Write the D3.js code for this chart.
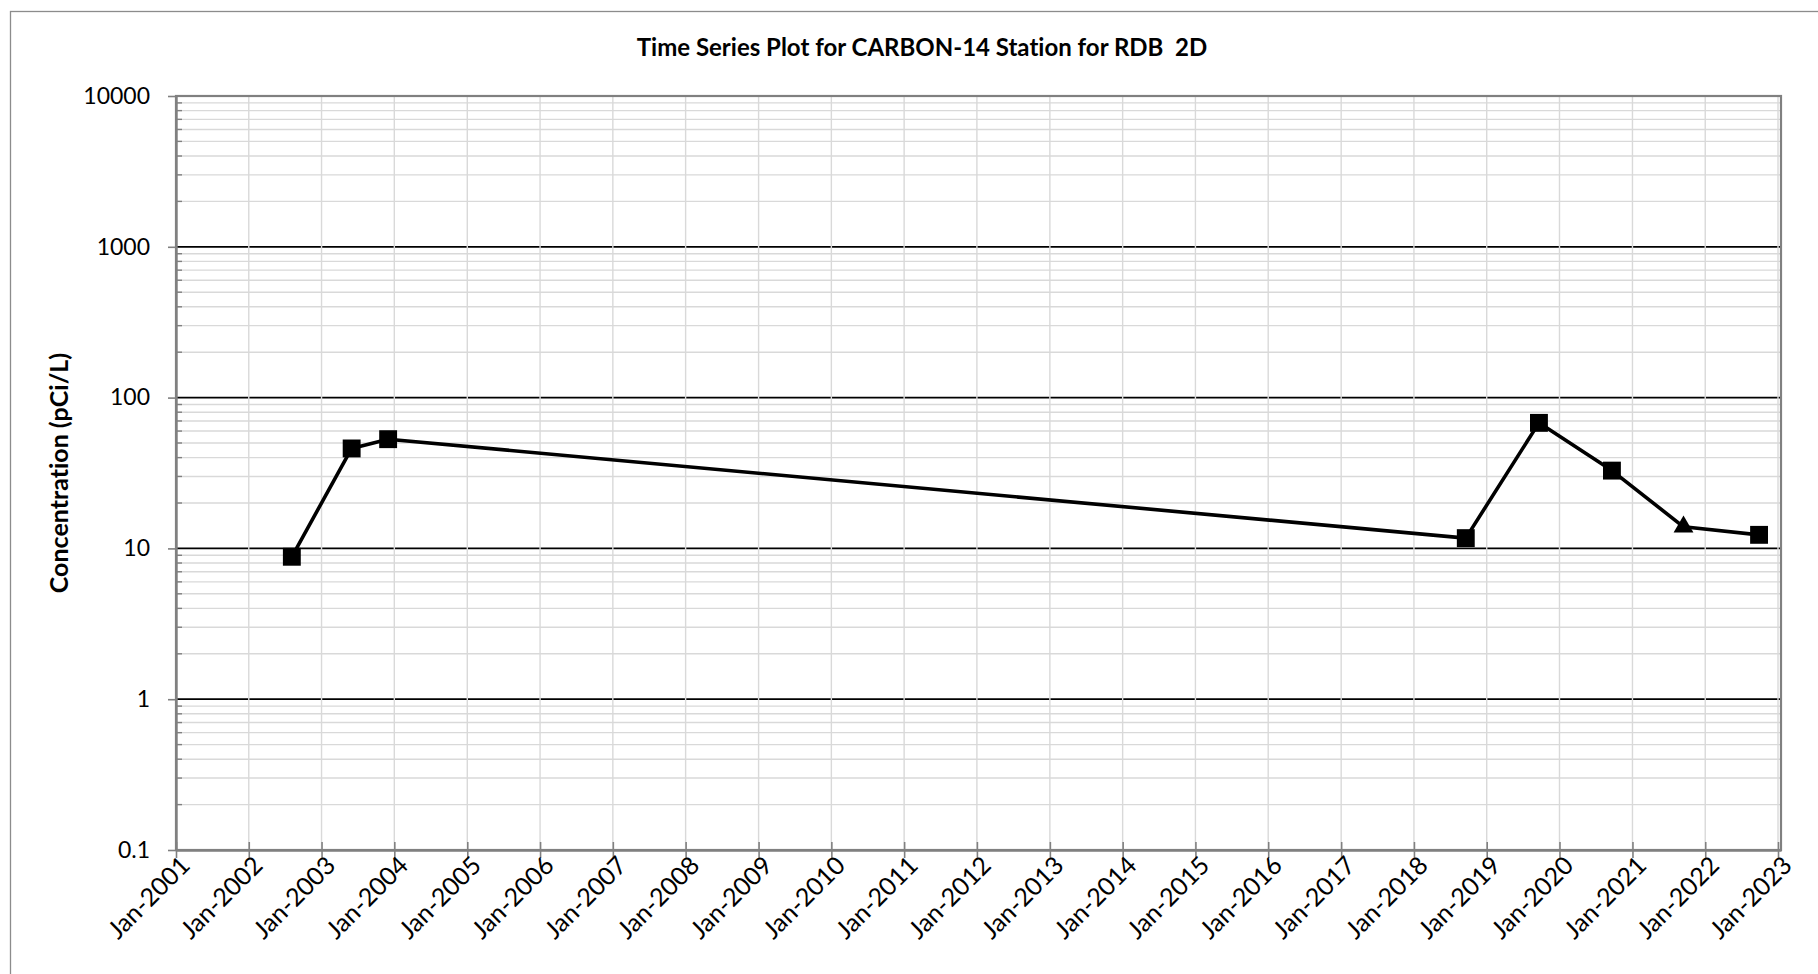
<!DOCTYPE html>
<html>
<head>
<meta charset="utf-8">
<script src="https://cdn.jsdelivr.net/npm/d3@7"></script>
<style>
  html, body { margin: 0; padding: 0; background: #fff; }
  svg { display: block; }
  text { font-family: Lato, "Open Sans", sans-serif; fill: #000; white-space: pre;
         font-variant-ligatures: none; }
</style>
</head>
<body>
<svg id="chart" width="1818" height="974"></svg>
<script>
// Carbon-14 sample results, station RDB 2D
const sampleDates = ["2002-08-05", "2003-06-01", "2003-12-01", "2018-09-18",
                     "2019-09-20", "2020-09-20", "2021-09-14", "2022-09-28"];
const concentrations = [8.8, 46, 53, 11.7, 68, 32.8, 13.9, 12.3];
const nonDetect = [false, false, false, false, false, false, true, false];

const yTickValues = [0.1, 1, 10, 100, 1000, 10000];
const yTickLabels = ["0.1", "1", "10", "100", "1000", "10000"];
const xTickDates = ["2001-01-01", "2002-01-01", "2003-01-01", "2004-01-01", "2005-01-01",
                    "2006-01-01", "2007-01-01", "2008-01-01", "2009-01-01", "2010-01-01",
                    "2011-01-01", "2012-01-01", "2013-01-01", "2014-01-01", "2015-01-01",
                    "2016-01-01", "2017-01-01", "2018-01-01", "2019-01-01", "2020-01-01",
                    "2021-01-01", "2022-01-01", "2023-01-01"];
const xTickLabels = ["Jan-2001", "Jan-2002", "Jan-2003", "Jan-2004", "Jan-2005", "Jan-2006",
                     "Jan-2007", "Jan-2008", "Jan-2009", "Jan-2010", "Jan-2011", "Jan-2012",
                     "Jan-2013", "Jan-2014", "Jan-2015", "Jan-2016", "Jan-2017", "Jan-2018",
                     "Jan-2019", "Jan-2020", "Jan-2021", "Jan-2022", "Jan-2023"];

const titleText = "Time Series Plot for CARBON-14 Station for RDB  2D";
const yTitleText = "Concentration (pCi/L)";

const parse = d3.timeParse("%Y-%m-%d");
const points = sampleDates.map((d, i) => ({
  date: parse(d), value: concentrations[i], nd: nonDetect[i]
}));
const xTicks = xTickDates.map(parse);

// plot area
const plot = { left: 176, right: 1781, top: 96, bottom: 850 };

const x = d3.scaleTime()
  .domain([parse("2001-01-01"), parse("2023-01-16")])
  .range([plot.left, plot.right]);
const y = d3.scaleLog()
  .domain([0.1, 10000])
  .range([plot.bottom, plot.top]);

const svg = d3.select("#chart");

// chart area frame
svg.append("rect")
  .attr("x", 10.5).attr("y", 11.5)
  .attr("width", 1840).attr("height", 1000)
  .attr("fill", "#fff")
  .attr("stroke", "#8c8c8c").attr("stroke-width", 1.3);

// minor horizontal gridlines (2..9 within each decade)
const minorVals = [];
for (let e = -1; e < 4; e++) {
  for (let k = 2; k <= 9; k++) minorVals.push(k * Math.pow(10, e));
}
svg.append("g").selectAll("line").data(minorVals).join("line")
  .attr("x1", plot.left).attr("x2", plot.right)
  .attr("y1", d => y(d)).attr("y2", d => y(d))
  .attr("stroke", "#d9d9d9").attr("stroke-width", 1.4);

// major horizontal gridlines
svg.append("g").selectAll("line").data(yTickValues).join("line")
  .attr("x1", plot.left).attr("x2", plot.right)
  .attr("y1", d => y(d)).attr("y2", d => y(d))
  .attr("stroke", "#000").attr("stroke-width", 1.8);

// vertical gridlines, one per year
svg.append("g").selectAll("line").data(xTicks).join("line")
  .attr("x1", d => x(d)).attr("x2", d => x(d))
  .attr("y1", plot.top).attr("y2", plot.bottom)
  .attr("stroke", "#d9d9d9").attr("stroke-width", 1.4);

// minor y ticks on the inside of the axis
svg.append("g").selectAll("line").data(minorVals).join("line")
  .attr("x1", plot.left).attr("x2", plot.left + 6)
  .attr("y1", d => y(d)).attr("y2", d => y(d))
  .attr("stroke", "#808080").attr("stroke-width", 1.4);

// plot area border
svg.append("rect")
  .attr("x", plot.left).attr("y", plot.top)
  .attr("width", plot.right - plot.left).attr("height", plot.bottom - plot.top)
  .attr("fill", "none").attr("stroke", "#808080").attr("stroke-width", 2.2);

// y axis
const yAxis = d3.axisLeft(y)
  .tickValues(yTickValues)
  .tickFormat((d, i) => yTickLabels[i])
  .tickSizeInner(8).tickSizeOuter(0).tickPadding(18);
const gy = svg.append("g").attr("transform", `translate(${plot.left},0)`).call(yAxis);
gy.select(".domain").attr("stroke", "#808080").attr("stroke-width", 2.4);
gy.selectAll(".tick line").attr("stroke", "#808080").attr("stroke-width", 1.6);
gy.selectAll(".tick text")
  .attr("font-family", "Lato, sans-serif").attr("font-size", 23).attr("fill", "#000");

// x axis, ticks crossing the axis line
const xAxis = d3.axisBottom(x)
  .tickValues(xTicks)
  .tickFormat((d, i) => xTickLabels[i])
  .tickSizeInner(8).tickSizeOuter(0);
const gx = svg.append("g").attr("transform", `translate(0,${plot.bottom})`).call(xAxis);
gx.select(".domain").attr("stroke", "#808080").attr("stroke-width", 2.4);
gx.selectAll(".tick line").attr("y1", -8).attr("y2", 8)
  .attr("stroke", "#808080").attr("stroke-width", 1.6);
gx.selectAll(".tick text")
  .attr("font-family", "Lato, sans-serif").attr("font-size", 25).attr("fill", "#000")
  .attr("text-anchor", "end")
  .attr("dy", null)
  .attr("y", 0)
  .attr("transform", "translate(15,17) rotate(-45)");

// data line
const line = d3.line().x(d => x(d.date)).y(d => y(d.value));
svg.append("path").datum(points)
  .attr("d", line)
  .attr("fill", "none").attr("stroke", "#000").attr("stroke-width", 3.6)
  .attr("stroke-linejoin", "round");

// markers
const sym = d3.symbol().size(d => d.nd ? 170 : 320)
  .type(d => d.nd ? d3.symbolTriangle : d3.symbolSquare);
svg.append("g").selectAll("path").data(points).join("path")
  .attr("transform", d => `translate(${x(d.date)},${y(d.value)})`)
  .attr("d", sym)
  .attr("fill", "#000");

// titles
svg.append("text")
  .attr("x", 922).attr("y", 56)
  .attr("text-anchor", "middle")
  .attr("font-weight", "bold").attr("font-size", 24)
  .text(titleText);

svg.append("text")
  .attr("transform", `translate(68,${(plot.top + plot.bottom) / 2}) rotate(-90)`)
  .attr("text-anchor", "middle")
  .attr("font-weight", "bold").attr("font-size", 25)
  .text(yTitleText);
</script>
</body>
</html>
